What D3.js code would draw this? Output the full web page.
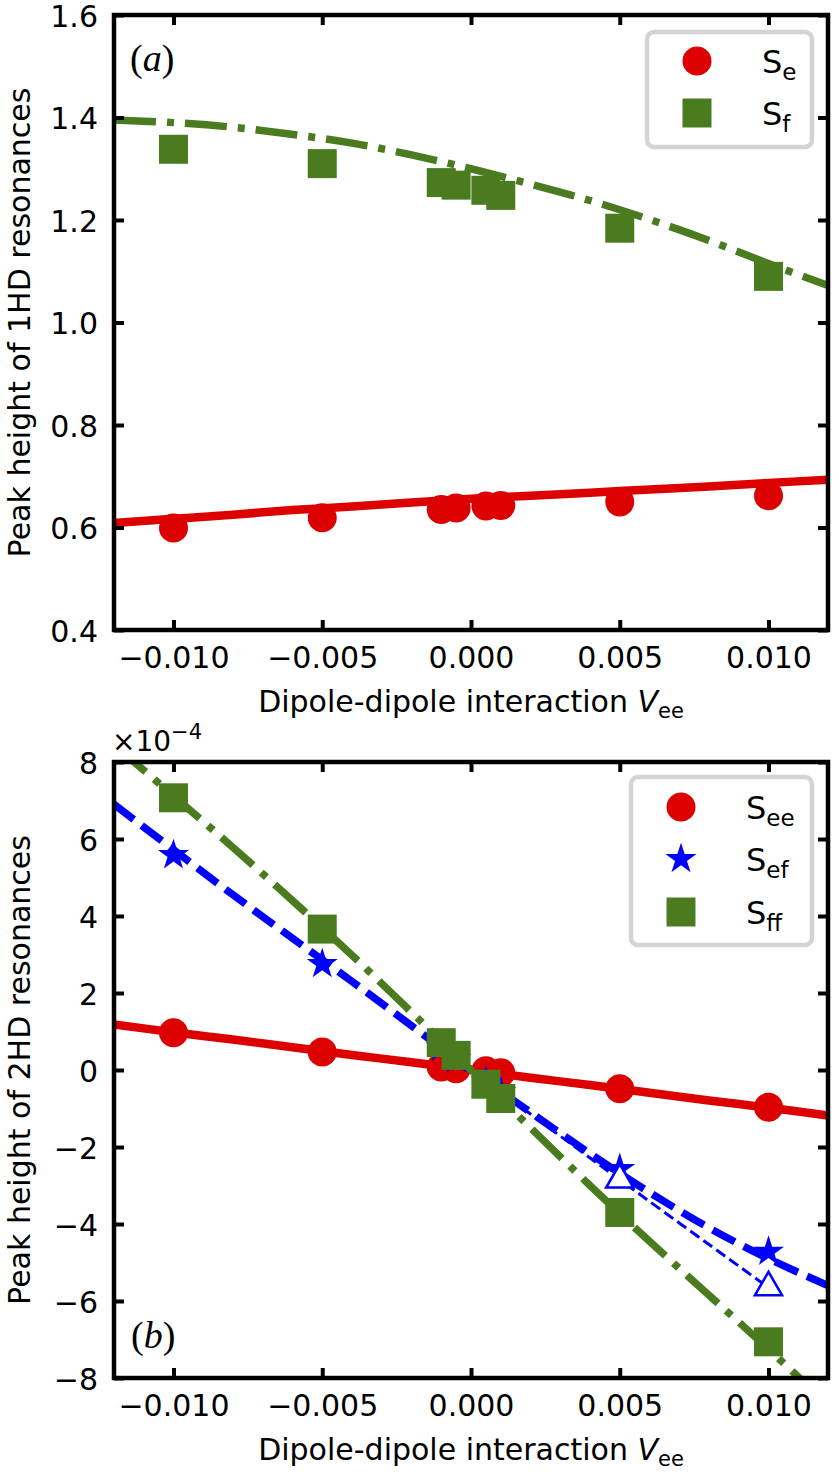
<!DOCTYPE html>
<html>
<head>
<meta charset="utf-8">
<script src="https://cdn.jsdelivr.net/npm/d3@7/dist/d3.min.js"></script>
<style>
  html, body { margin: 0; padding: 0; background: #fff; }
  svg { display: block; }
  text { font-family: "DejaVu Sans", sans-serif; fill: #000; }
</style>
</head>
<body>
<svg id="chart" width="839" height="1472"></svg>
<script>
// ---------------- DATA ----------------
const xPoints = [-0.010, -0.005, -0.001, -0.0005, 0.0005, 0.001, 0.005, 0.010];
const xFit = [-0.012, -0.010, -0.008, -0.006, -0.004, -0.002, 0, 0.002, 0.004, 0.006, 0.008, 0.010, 0.012];

// Panel (a): peak heights of 1HD resonances
const Se = [0.599, 0.619, 0.635, 0.638, 0.642, 0.643, 0.650, 0.662];
const Sf = [1.338, 1.310, 1.273, 1.268, 1.258, 1.248, 1.184, 1.090];
const SeFit = [0.609, 0.617, 0.625, 0.634, 0.641, 0.649, 0.656, 0.662, 0.668, 0.674, 0.680, 0.687, 0.693];
const SfFit = [1.395, 1.390, 1.381, 1.367, 1.350, 1.327, 1.300, 1.270, 1.238, 1.201, 1.160, 1.115, 1.072];

// Panel (b): peak heights of 2HD resonances (units of 1e-4)
const See = [0.97, 0.47, 0.08, 0.03, -0.02, -0.07, -0.49, -0.97];
const Sef = [5.58, 2.75, 0.58, 0.28, -0.30, -0.58, -2.57, -4.72];
const Sff = [7.07, 3.66, 0.71, 0.38, -0.37, -0.74, -3.70, -7.06];
const SeeFit = [1.18, 0.98, 0.79, 0.59, 0.39, 0.20, 0, -0.20, -0.39, -0.59, -0.79, -0.98, -1.18];
const SefFit = [6.90, 5.72, 4.55, 3.42, 2.30, 1.15, 0, -1.10, -2.17, -3.18, -4.10, -4.90, -5.60];
const SffFit = [8.45, 7.12, 5.78, 4.40, 2.98, 1.50, 0, -1.50, -3.00, -4.45, -5.85, -7.25, -8.70];
const xOpen = [0.005, 0.010];
const SefOpen = [-2.85, -5.65];
const xThin = [0, 0.005, 0.010];
const SefThin = [0, -2.85, -5.65];

const xTicks = [-0.010, -0.005, 0.000, 0.005, 0.010];
const yTicksA = [0.4, 0.6, 0.8, 1.0, 1.2, 1.4, 1.6];
const yTicksB = [-8, -6, -4, -2, 0, 2, 4, 6, 8];

// ---------------- STYLE ----------------
const RED = "#dc0000", GREEN = "#4a7c1f", BLUE = "#0000ff";
const FS = 30;
const L = 114, R = 828;

const svg = d3.select("#chart");
svg.append("rect").attr("width", 839).attr("height", 1472).attr("fill", "#fff");

const x = d3.scaleLinear().domain([-0.012, 0.012]).range([L, R]);
const ya = d3.scaleLinear().domain([0.4, 1.6]).range([630, 15]);
const yb = d3.scaleLinear().domain([-8, 8]).range([1378, 762]);

const fmtMinus = s => s.replace("-", "\u2212");

function panel(id, y, yTicks, yFmt) {
  const [y0, y1] = y.range();
  const g = svg.append("g");
  svg.append("clipPath").attr("id", id).append("rect")
    .attr("x", L).attr("y", y1).attr("width", R - L).attr("height", y0 - y1);
  const plot = g.append("g").attr("clip-path", `url(#${id})`);
  const axG = g.append("g");
  const tl = 10;
  const ax = axG.append("g").attr("transform", `translate(0,${y0})`)
    .call(d3.axisBottom(x).tickValues(xTicks).tickSize(-tl).tickPadding(tl + 14)
      .tickFormat(d => fmtMinus(d3.format(".3f")(d))));
  const axTop = axG.append("g").attr("transform", `translate(0,${y1})`)
    .call(d3.axisTop(x).tickValues(xTicks).tickSize(-tl).tickFormat(""));
  const ayl = axG.append("g").attr("transform", `translate(${L},0)`)
    .call(d3.axisLeft(y).tickValues(yTicks).tickSize(-tl).tickPadding(tl + 14)
      .tickFormat(yFmt));
  const ayr = axG.append("g").attr("transform", `translate(${R},0)`)
    .call(d3.axisRight(y).tickValues(yTicks).tickSize(-tl).tickFormat(""));
  [ax, axTop, ayl, ayr].forEach(a => {
    a.select(".domain").remove();
    a.selectAll(".tick line").attr("stroke", "#000").attr("stroke-width", 4);
    a.selectAll(".tick text").style("font-size", FS + "px").attr("fill", "#000")
      .style("font-family", "'DejaVu Sans', sans-serif");
  });
  ax.selectAll(".tick text").attr("dy", null).attr("y", 38);
  ayl.selectAll(".tick text").attr("dy", null).attr("x", -16).attr("y", 11);
  g.append("rect").attr("x", L).attr("y", y1).attr("width", R - L).attr("height", y0 - y1)
    .attr("fill", "none").attr("stroke", "#000").attr("stroke-width", 4.5);
  return plot;
}

function line(plot, xs, ys, y, color, width, dash) {
  const ln = d3.line().x((d, i) => x(xs[i])).y(d => y(d)).curve(d3.curveCatmullRom);
  plot.append("path").datum(ys).attr("d", ln).attr("fill", "none")
    .attr("stroke", color).attr("stroke-width", width)
    .attr("stroke-dasharray", dash || null).attr("stroke-linecap", "butt");
}

function markers(plot, xs, ys, y, type, color, size, open) {
  const sym = d3.symbol().type(type).size(size);
  plot.append("g").selectAll("path").data(ys).join("path")
    .attr("transform", (d, i) => `translate(${x(xs[i])},${y(d)})`)
    .attr("d", sym)
    .attr("fill", open ? "#fff" : color)
    .attr("stroke", open ? color : "none")
    .attr("stroke-width", open ? 2.5 : 0);
}

const CIRC = 29 * 29 * Math.PI / 4;
const SQ = 29 * 29;
const STAR = 300;
const TRI = 320;
const DASHDOT = "42,11,7,11";

// ---------------- PANEL (a) ----------------
const pa = panel("clipA", ya, yTicksA, d => d3.format(".1f")(d));
line(pa, xFit, SeFit, ya, RED, 8.5);
markers(pa, xPoints, Se, ya, d3.symbolCircle, RED, CIRC);
line(pa, xFit, SfFit, ya, GREEN, 7.5, DASHDOT);
markers(pa, xPoints, Sf, ya, d3.symbolSquare, GREEN, SQ);

// ---------------- PANEL (b) ----------------
const pb = panel("clipB", yb, yTicksB, d => fmtMinus(String(d)));
line(pb, xFit, SeeFit, yb, RED, 8.5);
markers(pb, xPoints, See, yb, d3.symbolCircle, RED, CIRC);
line(pb, xFit, SefFit, yb, BLUE, 7.5, "25,10");
line(pb, xThin, SefThin, yb, BLUE, 3, "11,5");
markers(pb, xPoints, Sef, yb, d3.symbolStar, BLUE, STAR);
markers(pb, xOpen, SefOpen, yb, d3.symbolTriangle, BLUE, TRI, true);
line(pb, xFit, SffFit, yb, GREEN, 7.5, DASHDOT);
markers(pb, xPoints, Sff, yb, d3.symbolSquare, GREEN, SQ);

// ---------------- LABELS ----------------
function xLabel(yBase) {
  const t = svg.append("text").attr("x", (L + R) / 2).attr("y", yBase)
    .attr("text-anchor", "middle").style("font-size", FS + "px");
  t.append("tspan").text("Dipole-dipole interaction ");
  t.append("tspan").text("V").style("font-style", "italic");
  t.append("tspan").text("ee").style("font-size", (FS * 0.7) + "px").attr("dy", 6);
}
xLabel(712);
xLabel(1460);

function yLabel(txt, cy) {
  svg.append("text").attr("transform", `translate(30,${cy}) rotate(-90)`)
    .attr("text-anchor", "middle").style("font-size", FS + "px").text(txt);
}
yLabel("Peak height of 1HD resonances", (15 + 630) / 2);
yLabel("Peak height of 2HD resonances", (762 + 1378) / 2);

// multiplier
const mult = svg.append("text").attr("x", 112).attr("y", 751).style("font-size", "28px");
mult.append("tspan").text("\u00d710");
mult.append("tspan").text("\u22124").style("font-size", "21px").attr("dy", -12);

// panel letters
function panelLetter(letter, px, py) {
  const t = svg.append("text").attr("x", px).attr("y", py)
    .style("font-family", "'Liberation Serif', 'DejaVu Serif', serif").style("font-size", "38px");
  t.append("tspan").text("(");
  t.append("tspan").text(letter).style("font-style", "italic");
  t.append("tspan").text(")");
}
panelLetter("a", 130, 71);
panelLetter("b", 131, 1348);

// legends
function legend(bx, by, bw, bh, items, mx, tx, rowY) {
  svg.append("rect").attr("x", bx).attr("y", by).attr("width", bw).attr("height", bh)
    .attr("rx", 7).attr("fill", "#fff").attr("stroke", "#d4d4d4").attr("stroke-width", 4.5);
  items.forEach((it, i) => {
    const cy = rowY[i];
    svg.append("path").attr("transform", `translate(${mx},${cy})`)
      .attr("d", d3.symbol().type(it.type).size(it.size)).attr("fill", it.color);
    const t = svg.append("text").attr("x", tx).attr("y", cy + 12).style("font-size", "32px");
    t.append("tspan").text("S");
    t.append("tspan").text(it.sub).style("font-size", "23px").attr("dy", 7);
  });
}
legend(647, 32, 165, 115, [
  { type: d3.symbolCircle, size: CIRC, color: RED, sub: "e" },
  { type: d3.symbolSquare, size: SQ, color: GREEN, sub: "f" }
], 697, 762, [61, 113]);
legend(631, 777, 181, 168, [
  { type: d3.symbolCircle, size: CIRC, color: RED, sub: "ee" },
  { type: d3.symbolStar, size: STAR, color: BLUE, sub: "ef" },
  { type: d3.symbolSquare, size: SQ, color: GREEN, sub: "ff" }
], 681, 746, [807, 859, 912]);
</script>
</body>
</html>
